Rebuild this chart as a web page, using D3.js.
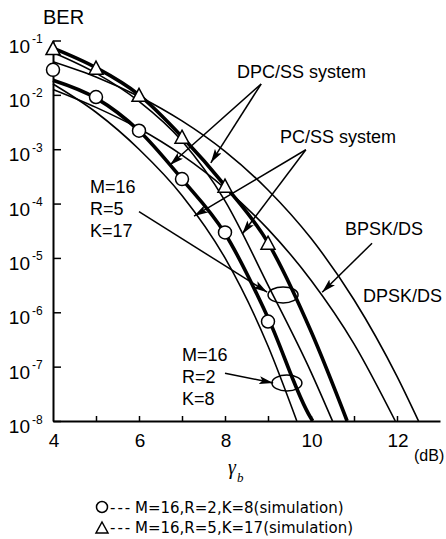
<!DOCTYPE html>
<html>
<head>
<meta charset="utf-8">
<script src="https://cdn.jsdelivr.net/npm/d3@7"></script>
<style>
  body { margin:0; background:#fff; }
  text { font-family: Arial, "Liberation Sans", Helvetica, sans-serif; fill:#000; }
  .leg { font-family: "DejaVu Sans", sans-serif; }
</style>
</head>
<body>
<svg width="446" height="539"></svg>
<script>
// theory curves: Eb/N0 in dB and log10(BER)
var pcR2Db   = [4, 5, 6, 7, 8, 9, 9.67];
var pcR2Ber  = [-1.80, -2.32, -3.00, -3.85, -5.00, -6.62, -8];
var dpcR2Db  = [4, 5, 6, 7, 8, 9, 10, 10.04];
var dpcR2Ber = [-1.73, -2.06, -2.66, -3.55, -4.55, -6.10, -7.95, -8];
var pcR5Db   = [4, 5, 6, 7, 8, 9, 10, 10.5];
var pcR5Ber  = [-1.22, -1.60, -2.12, -2.85, -3.95, -5.50, -7.10, -8];
var dpcR5Db  = [4, 5, 6, 7, 8, 9, 10, 10.84];
var dpcR5Ber = [-1.14, -1.50, -2.00, -2.77, -3.67, -4.72, -6.35, -8];
var bpskDb   = [4, 5, 6, 7, 8, 9, 10, 11, 11.96];
var bpskBer  = [-1.90, -2.23, -2.62, -3.11, -3.72, -4.47, -5.41, -6.58, -8];
var dpskDb   = [4, 5, 6, 7, 8, 9, 10, 11, 12, 12.5];
var dpskBer  = [-1.39, -1.67, -2.03, -2.48, -3.04, -3.75, -4.64, -5.77, -7.18, -8];

// simulation points
var simDb  = [4, 5, 6, 7, 8, 9];
var simR2  = [-1.54, -2.04, -2.66, -3.55, -4.53, -6.17];
var simR5  = [-1.14, -1.50, -2.00, -2.77, -3.67, -4.72];

var xTicks = [5, 6, 7, 8, 9, 10, 11, 12];
var xLabels = [4, 6, 8, 10, 12];
var yExp = [-1, -2, -3, -4, -5, -6, -7, -8];

var svg = d3.select("svg");

var x = d3.scaleLinear().domain([4, 13]).range([53, 440]);
var y = d3.scaleLog().domain([1e-8, 1e-1]).range([421, 40.5]);
function py(e) { return y(Math.pow(10, e)); }

// arrow head
svg.append("defs").append("marker")
    .attr("id", "head")
    .attr("markerUnits", "userSpaceOnUse")
    .attr("markerWidth", 15).attr("markerHeight", 9)
    .attr("refX", 14).attr("refY", 4)
    .attr("orient", "auto")
  .append("path")
    .attr("d", "M0,0 L14,4 L0,8 L3,4 Z")
    .attr("fill", "#000");

// axes
var xAxis = d3.axisBottom(x).tickValues(xTicks).tickSizeInner(-5).tickSizeOuter(0).tickFormat("");
svg.append("g").attr("transform", "translate(0,421)").call(xAxis)
  .call(function (g) {
    g.select(".domain").attr("stroke-width", 2);
    g.selectAll(".tick line").attr("stroke-width", 1.5);
  });

var yAxis = d3.axisLeft(y).tickValues(yExp.map(function (e) { return Math.pow(10, e); }))
  .tickSizeInner(-8).tickSizeOuter(0).tickFormat("");
svg.append("g").attr("transform", "translate(53,0)").call(yAxis)
  .call(function (g) {
    g.select(".domain").attr("stroke-width", 2);
    g.selectAll(".tick line").attr("stroke-width", 1.5);
  });

// tick labels
svg.selectAll(".xl").data(xLabels).enter().append("text")
  .attr("x", function (d) { return x(d) + 1; })
  .attr("y", 447)
  .attr("text-anchor", "middle")
  .style("font-size", "19px")
  .text(function (d) { return d; });

var yl = svg.selectAll(".yl").data(yExp).enter().append("g");
yl.append("text")
  .attr("x", 30).attr("y", function (d) { return py(d) + 12; })
  .attr("text-anchor", "end")
  .style("font-size", "19px")
  .text("10");
yl.append("text")
  .attr("x", 32).attr("y", function (d) { return py(d) + 2.5; })
  .style("font-size", "12px")
  .text(function (d) { return "-" + (-d); });

svg.append("text").attr("x", 43).attr("y", 24).style("font-size", "20px").text("BER");
svg.append("text").attr("x", 414).attr("y", 461).style("font-size", "16px").text("(dB)");
var gl = svg.append("text").attr("x", 228).attr("y", 474)
  .style("font-family", "'Liberation Serif', 'Times New Roman', serif")
  .style("font-style", "italic").style("font-size", "20px");
gl.append("tspan").text("\u03b3");
gl.append("tspan").attr("dx", 1).attr("dy", 8).style("font-size", "13px").text("b");

// curves
var line = d3.line()
  .x(function (d) { return x(d[0]); })
  .y(function (d) { return py(d[1]); })
  .curve(d3.curveMonotoneX);

var curves = [
  [pcR2Db, pcR2Ber, 1.6],
  [dpcR2Db, dpcR2Ber, 3.6],
  [pcR5Db, pcR5Ber, 1.6],
  [dpcR5Db, dpcR5Ber, 3.6],
  [bpskDb, bpskBer, 1.6],
  [dpskDb, dpskBer, 1.6]
];
svg.selectAll(".curve").data(curves).enter().append("path")
  .attr("fill", "none")
  .attr("stroke", "#000")
  .attr("stroke-width", function (d) { return d[2]; })
  .attr("d", function (d) { return line(d3.zip(d[0], d[1])); });

// annotation arrows, in (dB, log10 BER)
var arrows = [
  [[8.84, -1.80], [6.72, -3.29]],
  [[8.84, -1.80], [7.67, -3.25]],
  [[9.88, -3.01], [7.28, -4.23]],
  [[9.88, -3.01], [8.40, -4.56]],
  [[6.00, -4.15], [8.98, -5.63]],
  [[8.00, -7.12], [9.12, -7.30]],
  [[11.42, -4.73], [10.26, -5.63]]
];
svg.selectAll(".arrow").data(arrows).enter().append("line")
  .attr("x1", function (d) { return x(d[0][0]); })
  .attr("y1", function (d) { return py(d[0][1]); })
  .attr("x2", function (d) { return x(d[1][0]); })
  .attr("y2", function (d) { return py(d[1][1]); })
  .attr("stroke", "#000").attr("stroke-width", 1.5)
  .attr("marker-end", "url(#head)");

var ellipses = [[9.35, -5.68], [9.44, -7.30]];
svg.selectAll(".ell").data(ellipses).enter().append("ellipse")
  .attr("cx", function (d) { return x(d[0]); })
  .attr("cy", function (d) { return py(d[1]); })
  .attr("rx", 15).attr("ry", 8)
  .attr("fill", "none").attr("stroke", "#000").attr("stroke-width", 1.5);

// simulation markers
svg.selectAll(".circ").data(d3.zip(simDb, simR2)).enter().append("circle")
  .attr("cx", function (d) { return x(d[0]); })
  .attr("cy", function (d) { return py(d[1]); })
  .attr("r", 6.5)
  .attr("fill", "#fff").attr("stroke", "#000").attr("stroke-width", 1.5);

var tri = "M0,-7.5 L7,5.5 L-7,5.5 Z";
svg.selectAll(".tri").data(d3.zip(simDb, simR5)).enter().append("path")
  .attr("transform", function (d) { return "translate(" + x(d[0]) + "," + (py(d[1]) + 1) + ")"; })
  .attr("d", tri)
  .attr("fill", "#fff").attr("stroke", "#000").attr("stroke-width", 1.5);

// labels
function label(t, px, pyy) {
  svg.append("text").attr("x", px).attr("y", pyy).style("font-size", "18px").text(t);
}
label("DPC/SS system", 237, 78);
label("PC/SS system", 280, 143);
label("M=16", 90, 193);
label("R=5", 90, 215);
label("K=17", 90, 237);
label("BPSK/DS", 345, 235);
label("DPSK/DS", 363, 302);
label("M=16", 182, 361);
label("R=2", 182, 383);
label("K=8", 182, 405);

// legend
svg.append("circle").attr("cx", 102).attr("cy", 507).attr("r", 5.5)
  .attr("fill", "#fff").attr("stroke", "#000").attr("stroke-width", 1.5);
svg.append("path").attr("transform", "translate(102,528)").attr("d", "M0,-6 L6,5 L-6,5 Z")
  .attr("fill", "#fff").attr("stroke", "#000").attr("stroke-width", 1.5);
[["M=16,R=2,K=8(simulation)", 513], ["M=16,R=5,K=17(simulation)", 533]].forEach(function (d) {
  svg.append("text").attr("class", "leg").attr("x", 110).attr("y", d[1])
    .style("font-size", "15px").style("letter-spacing", "2px").text("---");
  svg.append("text").attr("class", "leg").attr("x", 135).attr("y", d[1])
    .style("font-size", "15px").text(d[0]);
});
</script>
</body>
</html>
